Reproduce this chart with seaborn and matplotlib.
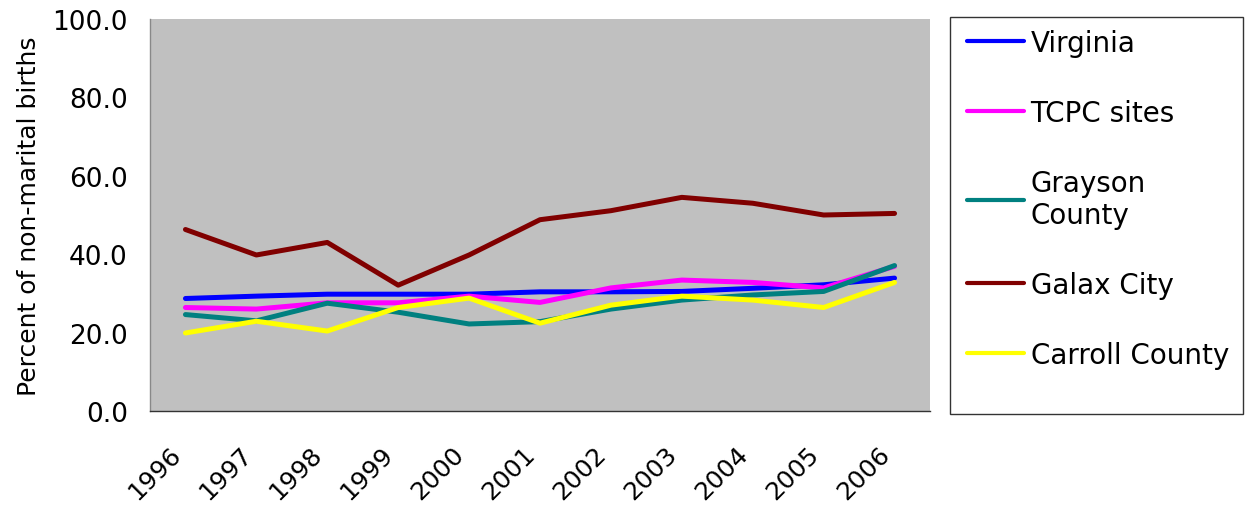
import matplotlib
matplotlib.use("Agg")
import matplotlib.pyplot as plt
import matplotlib.transforms as mtransforms
from matplotlib.patches import Rectangle
from matplotlib.lines import Line2D
import seaborn as sns
import pandas as pd
import numpy as np

years = ["1996", "1997", "1998", "1999", "2000", "2001", "2002", "2003", "2004", "2005", "2006"]
virginia = [28.7, 29.3, 29.8, 29.8, 29.8, 30.4, 30.4, 30.5, 31.3, 32.2, 33.9]
tcpc = [26.4, 26.0, 27.6, 27.6, 29.3, 27.7, 31.4, 33.4, 32.8, 31.4, 36.9]
grayson = [24.6, 23.0, 27.5, 25.2, 22.2, 22.8, 26.0, 28.3, 29.6, 30.5, 37.1]
galax = [46.3, 39.8, 43.0, 32.1, 39.8, 48.8, 51.1, 54.5, 53.0, 50.0, 50.4]
carroll = [19.9, 22.9, 20.4, 26.4, 28.8, 22.4, 27.0, 29.3, 28.3, 26.4, 32.8]

series_names = ["Virginia", "TCPC sites", "Grayson\nCounty", "Galax City", "Carroll County"]
series_vals = [virginia, tcpc, grayson, galax, carroll]
colors = ["#0000FF", "#FF00FF", "#008080", "#800000", "#FFFF00"]

rows = []
for name, vals in zip(series_names, series_vals):
    for i, (y, v) in enumerate(zip(years, vals)):
        rows.append({"pos": i, "year": y, "value": v, "series": name})
df = pd.DataFrame(rows)

sns.set_theme(style="white")
plt.rcParams["font.family"] = ["DejaVu Sans"]
plt.rcParams["text.color"] = "black"
plt.rcParams["axes.labelcolor"] = "black"
plt.rcParams["xtick.color"] = "black"
plt.rcParams["ytick.color"] = "black"

W, H = 1250, 506
fig = plt.figure(figsize=(W / 100, H / 100), dpi=100)
ax = fig.add_axes([150 / W, 1 - 412 / H, 780 / W, 392 / H])
ax.set_facecolor("#C0C0C0")

sns.lineplot(data=df, x="pos", y="value", hue="series", hue_order=series_names,
             palette=colors, linewidth=3.6, ax=ax, legend=False)

ax.set_xlim(-0.5, 10.5)
ax.set_ylim(0, 100)
ax.set_yticks(np.arange(0, 101, 20))
ax.set_yticklabels([f"{v:.1f}" for v in np.arange(0, 101, 20)], fontsize=19)
ax.set_xticks(range(len(years)))
ax.set_xticklabels(years, fontsize=18, rotation=45, ha="right", va="top",
                   rotation_mode="default")
offset = mtransforms.ScaledTranslation(-0.2, 0, fig.dpi_scale_trans)
for lab in ax.get_xticklabels():
    lab.set_transform(lab.get_transform() + offset)
ax.set_xticks(np.arange(-0.5, 11, 1), minor=True)
ax.tick_params(axis="x", which="major", length=0, pad=22)
ax.tick_params(axis="x", which="minor", length=7, color="#333333", direction="out")
ax.tick_params(axis="y", which="major", length=8, color="#333333", direction="out", pad=8)
ax.set_xlabel("")
ax.set_ylabel("Percent of non-marital births", fontsize=18, labelpad=8)

for s in ["top", "right"]:
    ax.spines[s].set_visible(False)
ax.spines["left"].set_color("#888888")
ax.spines["bottom"].set_color("#333333")
ax.spines["left"].set_linewidth(1)
ax.spines["bottom"].set_linewidth(1)

# legend frame
fig.patches.append(Rectangle((950 / W, 1 - 415 / H), 293 / W, 397 / H,
                             transform=fig.transFigure, facecolor="white",
                             edgecolor="#333333", linewidth=1, zorder=0))

handles = [Line2D([0], [0], color=c, linewidth=3) for c in colors]
leg = fig.legend(handles, series_names, loc="upper left",
                 bbox_to_anchor=(950 / W, 1 - 13 / H), bbox_transform=fig.transFigure,
                 fontsize=20, frameon=False,
                 labelspacing=1.51, handlelength=2.05, handletextpad=0.25,
                 borderpad=0.6, borderaxespad=0)
for t in leg.get_texts():
    t.set_color("black")

fig.savefig("out.png", dpi=100)
